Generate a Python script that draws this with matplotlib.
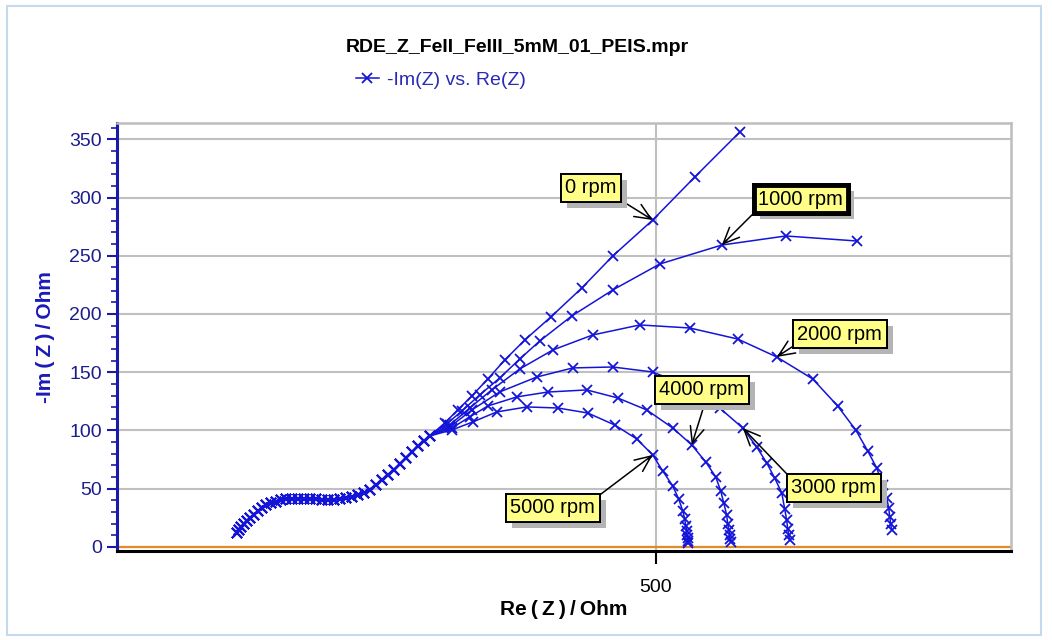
import matplotlib
matplotlib.use("Agg")
import matplotlib.pyplot as plt
import matplotlib.patheffects as pe
from matplotlib.patches import Rectangle
from matplotlib.ticker import MultipleLocator

plt.rcParams['font.family'] = ['Liberation Sans', 'DejaVu Sans']

# ---- data (Ohm) ----
# shared high-frequency part (all rotation rates overlap here)
hf_re = [140.3, 142.0, 143.8, 146.3, 148.9, 151.5, 154.9, 158.4, 161.8, 165.2,
         169.5, 173.8, 178.1, 182.4, 187.5, 192.7, 197.8, 203.0, 208.1, 213.3,
         218.4, 223.6, 228.7, 233.9, 239.0, 244.2, 249.3, 254.5, 259.6, 264.8,
         269.9, 275.1, 280.2, 285.4, 290.6, 295.7, 300.9, 306.0]
hf_im = [12.0, 14.6, 17.2, 19.7, 22.3, 24.9, 27.5, 30.9, 33.5, 36.1,
         37.8, 39.0, 40.2, 41.0, 41.5, 41.5, 41.5, 41.0, 41.0, 40.5,
         40.5, 40.5, 41.0, 42.0, 43.0, 44.5, 46.5, 49.3, 53.0, 57.5,
         61.8, 66.1, 71.2, 76.4, 81.5, 86.7, 91.0, 95.3]

rpm0_re = [318.9, 330.0, 342.1, 355.8, 370.4, 387.6, 409.9, 436.5, 463.1, 497.4, 533.5, 572.1]
rpm0_im = [106.4, 117.6, 129.6, 144.2, 160.5, 177.7, 197.4, 222.3, 249.8, 280.7, 317.6, 356.2]

rpm1000_re = [320.6, 333.5, 348.9, 366.1, 383.3, 400.4, 427.9, 463.1, 503.4, 556.7, 611.6, 672.5]
rpm1000_im = [105.6, 116.7, 130.5, 145.1, 161.4, 176.8, 198.3, 220.6, 242.9, 259.2, 267.0, 262.7]

rpm2000_re = [323.2, 340.3, 359.2, 383.3, 411.6, 445.9, 486.3, 529.2, 570.4, 603.9, 634.8,
              656.2, 671.7, 682.0, 689.7, 694.8, 698.3, 700.0, 700.9, 701.7, 702.6]
rpm2000_im = [104.7, 119.3, 134.8, 152.8, 169.1, 182.0, 190.6, 188.0, 178.5, 163.1, 144.2,
              121.0, 100.4, 82.4, 67.8, 53.2, 42.1, 33.5, 25.8, 19.7, 14.6]

rpm3000_re = [323.2, 342.1, 366.1, 397.9, 428.8, 463.1, 497.4, 527.5, 554.9, 574.7, 586.7,
              595.3, 602.1, 608.2, 610.7, 612.4, 613.3, 614.2, 615.0]
rpm3000_im = [103.0, 117.6, 133.1, 145.9, 153.7, 154.5, 150.2, 138.2, 119.3, 102.1, 85.8,
              72.1, 59.2, 46.4, 32.6, 23.2, 15.5, 10.3, 6.0]

rpm4000_re = [324.9, 340.3, 355.8, 380.7, 407.3, 440.8, 467.4, 492.3, 514.6, 530.9, 542.9,
              551.5, 555.8, 558.4, 560.9, 561.8, 562.7, 563.5, 563.5, 564.4]
rpm4000_im = [102.1, 111.6, 121.0, 128.8, 133.0, 134.8, 127.9, 117.6, 102.1, 87.6, 73.0,
              60.1, 48.1, 37.8, 27.5, 19.7, 14.6, 10.3, 6.9, 4.3]

rpm5000_re = [324.9, 342.9, 363.5, 389.3, 415.9, 441.6, 464.8, 483.7, 497.4, 506.0, 514.6,
              519.7, 523.2, 524.9, 525.8, 526.6, 526.6, 527.5, 527.5, 527.5]
rpm5000_im = [100.4, 107.3, 115.9, 120.2, 119.3, 115.0, 104.7, 92.7, 79.0, 65.2, 52.4,
              41.2, 30.9, 24.0, 18.0, 13.7, 10.3, 7.7, 5.2, 3.4]

series = [(rpm0_re, rpm0_im), (rpm1000_re, rpm1000_im), (rpm2000_re, rpm2000_im),
          (rpm3000_re, rpm3000_im), (rpm4000_re, rpm4000_im), (rpm5000_re, rpm5000_im)]

labels = ["0 rpm", "1000 rpm", "2000 rpm", "3000 rpm", "4000 rpm", "5000 rpm"]
label_target = [(497.4, 280.7), (556.7, 259.2), (603.9, 163.1), (574.7, 102.1), (530.9, 87.6), (497.4, 79.0)]
label_pos = [(444.2, 308.2), (624.5, 298.7), (657.9, 182.8), (652.8, 50.6), (539.5, 134.8), (411.6, 33.5)]
label_arrow_from = [(1, 0), (0, 0), (0, 0), (0, 1), (0.55, 0), (1, 1)]

title = "RDE_Z_FeII_FeIII_5mM_01_PEIS.mpr"
legend_label = "-Im(Z) vs. Re(Z)"

# ---- figure ----
fig = plt.figure(figsize=(10.52, 6.40), dpi=100)
fig.patches.append(Rectangle((7/1052, 1-635/640), (1041-7)/1052, (635-6)/640,
                             transform=fig.transFigure, fill=False,
                             edgecolor='#c5d9ee', linewidth=1.5))
ax = fig.add_axes([117/1052, 1-551/640, (1011-117)/1052, (551-123)/640])

blue = '#1414d8'
for re, im in series:
    ax.plot(hf_re + re, hf_im + im, color=blue, lw=1.1, marker='x', ms=6.5, mew=1.3)

ax.axhline(0, color='#e08a2c', lw=1.6, zorder=1)

ax.set_xlim(37.5, 805)
ax.set_ylim(-3.5, 364)

ax.yaxis.set_major_locator(MultipleLocator(50))
ax.yaxis.set_minor_locator(MultipleLocator(10))
ax.xaxis.set_major_locator(MultipleLocator(500))
ax.grid(True, which='major', color='#c0c0c0', lw=1.5, zorder=0)
ax.set_axisbelow(True)

ax.spines['left'].set_color('#1a1aa8')
ax.spines['left'].set_linewidth(2.2)
ax.spines['bottom'].set_color('black')
ax.spines['bottom'].set_linewidth(2.2)
ax.spines['top'].set_color('#bdbdbd')
ax.spines['top'].set_linewidth(1.8)
ax.spines['right'].set_color('#bdbdbd')
ax.spines['right'].set_linewidth(1.8)

ax.tick_params(axis='y', which='major', direction='out', length=7, width=1.5,
               colors='#1a1aa8', labelsize=14, labelcolor='#1c1c8c', pad=4)
ax.tick_params(axis='y', which='minor', direction='out', length=4, width=1.2, colors='#1a1aa8')
ax.tick_params(axis='x', which='major', direction='out', length=9, width=1.5,
               colors='black', labelsize=14, pad=11)

ts = "\u2009"
ax.set_ylabel("-Im" + ts + "(" + ts + "Z" + ts + ")" + ts + "/" + ts + "Ohm",
              color='#1a1ab8', fontsize=15, fontweight='bold', labelpad=10)
ax.set_xlabel("Re" + ts + "(" + ts + "Z" + ts + ")" + ts + "/" + ts + "Ohm",
              color='black', fontsize=15, fontweight='bold', labelpad=3)

for text, tgt, pos, rel in zip(labels, label_target, label_pos, label_arrow_from):
    thick = (text == "1000 rpm")
    ann = ax.annotate(text, xy=tgt, xytext=pos, textcoords='data',
                      ha='center', va='center', fontsize=14.5, color='black',
                      bbox=dict(boxstyle='square,pad=0.22', fc='#ffff88', ec='black',
                                lw=3.5 if thick else 1.4),
                      arrowprops=dict(arrowstyle='->,head_length=0.8,head_width=0.35',
                                      color='black', lw=1.1, shrinkA=0, shrinkB=0,
                                      relpos=rel),
                      zorder=5)
    ann.get_bbox_patch().set_path_effects([
        pe.withSimplePatchShadow(offset=(4.5, -4.5), shadow_rgbFace='#b4b4b4', alpha=1.0),
        pe.Normal()])

fig.text(517/1052, 1-47/640, title, ha='center', va='center', fontsize=14,
         fontweight='bold', family=['Liberation Sans Narrow', 'Liberation Sans', 'DejaVu Sans'])

leg_handle = plt.Line2D([], [], color=blue, lw=1.1, marker='x', ms=6.5, mew=1.3)
fig.legend([leg_handle], [legend_label], loc='center left',
           bbox_to_anchor=(338/1052, 1-80/640), frameon=False,
           handlelength=1.2, handletextpad=0.4, labelcolor='#2a2ab4',
           prop={'family': ['Liberation Sans Narrow', 'Liberation Sans', 'DejaVu Sans'], 'size': 14})

fig.savefig("out.png", dpi=100)
